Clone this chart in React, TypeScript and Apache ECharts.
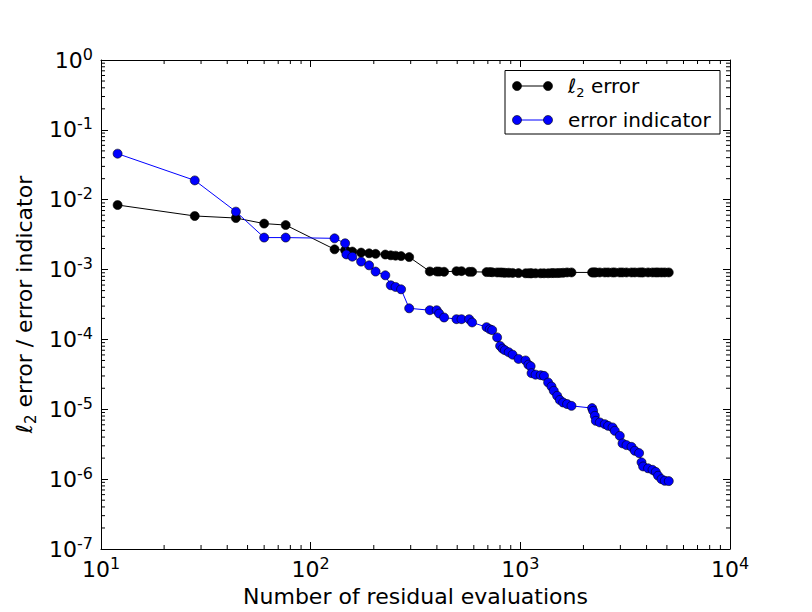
import React, { useEffect, useRef } from "react";
import * as echarts from "echarts";

// Number of residual evaluations (shared by both series)
const evaluations = [
  12, 28, 44, 60, 76, 130, 146, 148, 158, 174, 190, 204, 227, 241, 254, 270, 295, 370, 399, 410,
  433, 496, 524, 570, 589, 690, 715, 734, 775, 801, 823, 844, 880, 919, 980, 1059, 1092, 1120,
  1131, 1182, 1250, 1297, 1357, 1408, 1444, 1498, 1543, 1600, 1671, 1754, 2199, 2224, 2266, 2291,
  2393, 2528, 2622, 2752, 2822, 2981, 3072, 3209, 3390, 3516, 3685, 3784, 3851, 4068, 4270, 4426,
  4540, 4713, 4886, 5105,
];

const l2Error = [
  8.4e-3, 5.85e-3, 5.47e-3, 4.55e-3, 4.34e-3, 1.95e-3, 1.89e-3, 1.85e-3, 1.81e-3, 1.75e-3,
  1.71e-3, 1.68e-3, 1.64e-3, 1.6e-3, 1.58e-3, 1.56e-3, 1.51e-3, 9.4e-4, 9.4e-4, 9.35e-4,
  9.3e-4, 9.5e-4, 9.5e-4, 9.3e-4, 9.3e-4, 9.2e-4, 9.2e-4, 9.15e-4, 9.1e-4, 9.1e-4,
  9.05e-4, 9.0e-4, 9.0e-4, 8.95e-4, 8.9e-4, 8.85e-4, 8.85e-4, 8.85e-4, 8.85e-4, 8.85e-4,
  8.85e-4, 8.85e-4, 8.85e-4, 8.9e-4, 8.9e-4, 8.9e-4, 8.95e-4, 9.0e-4, 9.1e-4, 9.1e-4,
  9.1e-4, 9.1e-4, 9.1e-4, 9.1e-4, 9.1e-4, 9.1e-4, 9.1e-4, 9.1e-4, 9.1e-4, 9.1e-4,
  9.1e-4, 9.1e-4, 9.1e-4, 9.1e-4, 9.1e-4, 9.1e-4, 9.1e-4, 9.1e-4, 9.1e-4, 9.1e-4,
  9.1e-4, 9.1e-4, 9.1e-4, 9.1e-4,
];

const errorIndicator = [
  4.56e-2, 1.89e-2, 6.75e-3, 2.87e-3, 2.87e-3, 2.8e-3, 2.38e-3, 1.65e-3, 1.53e-3, 1.3e-3,
  1.15e-3, 9.36e-4, 8.28e-4, 5.96e-4, 5.64e-4, 5.22e-4, 2.79e-4, 2.62e-4, 2.62e-4, 2.35e-4,
  2.06e-4, 1.95e-4, 1.95e-4, 1.95e-4, 1.75e-4, 1.5e-4, 1.4e-4, 1.36e-4, 1.07e-4, 8.07e-5,
  7.37e-5, 7.01e-5, 6.56e-5, 6.04e-5, 5.26e-5, 5.0e-5, 4.35e-5, 4.14e-5, 3.29e-5, 3.13e-5,
  3.08e-5, 3.01e-5, 2.42e-5, 2.12e-5, 1.84e-5, 1.56e-5, 1.36e-5, 1.25e-5, 1.19e-5, 1.12e-5,
  1.04e-5, 9.5e-6, 8.06e-6, 6.84e-6, 6.49e-6, 6.13e-6, 5.8e-6, 5.5e-6, 4.92e-6, 4.17e-6,
  3.25e-6, 3.07e-6, 2.9e-6, 2.55e-6, 2.36e-6, 1.74e-6, 1.52e-6, 1.43e-6, 1.36e-6, 1.27e-6,
  1.12e-6, 1.0e-6, 9.48e-7, 9.38e-7,
];

// axis ranges and minor tick positions
const xRange = [10, 10000];
const yRange = [1e-7, 1];
const minorMultipliers = [2, 3, 4, 5, 6, 7, 8, 9];
const xDecades = [10, 100, 1000];
const yDecades = [1e-7, 1e-6, 1e-5, 1e-4, 1e-3, 1e-2, 1e-1];

const FONT = "DejaVu Sans";

export default function App() {
  const ref = useRef<HTMLDivElement>(null);

  useEffect(() => {
    document.body.style.margin = "0";
    if (!ref.current) return;
    const chart = echarts.init(ref.current, undefined, { renderer: "svg" });

    const xMinor: number[] = [];
    xDecades.forEach((d) => minorMultipliers.forEach((m) => xMinor.push(d * m)));
    const yMinor: number[] = [];
    yDecades.forEach((d) => yMinor.push(...minorMultipliers.map((m) => d * m)));

    const supRich = {
      b: { fontSize: 22, fontFamily: FONT, color: "#000", lineHeight: 28, verticalAlign: "middle" },
      s: { fontSize: 16, fontFamily: FONT, color: "#000", lineHeight: 16, verticalAlign: "top" },
    };
    const fmt = (v: number) => {
      const e = Math.round(Math.log10(v));
      return `{b|10}{s|${e}}`;
    };

    const makeSubRich = (size: number, subSize: number) => ({
      l: { fontSize: size, fontFamily: FONT, fontStyle: "italic", color: "#000", lineHeight: size + 6, verticalAlign: "middle" },
      n: { fontSize: subSize, fontFamily: FONT, color: "#000", lineHeight: subSize + 1, verticalAlign: "bottom" },
      t: { fontSize: size, fontFamily: FONT, color: "#000", lineHeight: size + 6, verticalAlign: "middle" },
    });
    const legendRich = makeSubRich(20, 13);
    const titleRich = makeSubRich(22, 15);

    const baseAxis = {
      type: "log" as const,
      logBase: 10,
      axisLine: { show: true, lineStyle: { color: "#000", width: 1 } },
      axisTick: { show: true, inside: true, length: 7, lineStyle: { color: "#000", width: 1 } },
      splitLine: { show: false },
      minorTick: { show: false },
    };

    const legendX = 505;
    const legendY = 70.5;
    const legendItems = [
      { text: "{l|ℓ}{n|2}{t| error}", color: "#000000", y: 86 },
      { text: "{t|error indicator}", color: "#0000ff", y: 120 },
    ];
    const legendGraphics: any[] = [
      {
        type: "rect",
        shape: { x: legendX, y: legendY, width: 215, height: 63.5 },
        style: { fill: "#fff", stroke: "#000", lineWidth: 1 },
        z: 100,
      },
    ];
    legendItems.forEach((it) => {
      legendGraphics.push({
        type: "line",
        shape: { x1: 517, y1: it.y, x2: 548, y2: it.y },
        style: { stroke: it.color, lineWidth: 1 },
        z: 101,
      });
      [517, 548].forEach((cx) =>
        legendGraphics.push({
          type: "circle",
          shape: { cx, cy: it.y, r: 4.5 },
          style: { fill: it.color, stroke: "#000", lineWidth: 0.6 },
          z: 102,
        })
      );
      legendGraphics.push({
        type: "text",
        x: 568,
        y: it.y,
        style: { text: it.text, rich: legendRich, verticalAlign: "middle", align: "left" },
        z: 102,
      });
    });

    const tickSeries = (values: number[], horizontal: boolean) => ({
      type: "custom" as const,
      silent: true,
      clip: false,
      xAxisIndex: 0,
      yAxisIndex: 0,
      z: 10,
      data: values.map((v) => (horizontal ? [v, 1] : [10, v])),
      renderItem: (params: any, api: any) => {
        const cs = params.coordSys;
        const p = api.coord([api.value(0), api.value(1)]);
        const st = { stroke: "#000", lineWidth: 1 };
        if (horizontal) {
          const b = cs.y + cs.height;
          return {
            type: "group",
            children: [
              { type: "line", shape: { x1: p[0], y1: b, x2: p[0], y2: b - 4 }, style: st },
              { type: "line", shape: { x1: p[0], y1: cs.y, x2: p[0], y2: cs.y + 4 }, style: st },
            ],
          };
        }
        const r = cs.x + cs.width;
        return {
          type: "group",
          children: [
            { type: "line", shape: { x1: cs.x, y1: p[1], x2: cs.x + 4, y2: p[1] }, style: st },
            { type: "line", shape: { x1: r, y1: p[1], x2: r - 4, y2: p[1] }, style: st },
          ],
        };
      },
    });

    chart.setOption({
      animation: false,
      backgroundColor: "#fff",
      textStyle: { fontFamily: FONT },
      grid: { left: 101, right: 82, top: 60, bottom: 61, containLabel: false },
      xAxis: [
        {
          ...baseAxis,
          position: "bottom",
          min: xRange[0],
          max: xRange[1],
          axisLabel: { formatter: fmt, rich: supRich, margin: 6, showMinLabel: true, showMaxLabel: true },
          name: "Number of residual evaluations",
          nameLocation: "middle",
          nameGap: 36,
          nameTextStyle: { fontSize: 22, fontFamily: FONT, color: "#000" },
        },
        {
          ...baseAxis,
          position: "top",
          min: xRange[0],
          max: xRange[1],
          axisLabel: { show: false },
        },
      ],
      yAxis: [
        {
          ...baseAxis,
          position: "left",
          min: yRange[0],
          max: yRange[1],
          axisLabel: { formatter: fmt, rich: supRich, margin: 8, showMinLabel: true, showMaxLabel: true },
          name: "{l|ℓ}{n|2}{t| error / error indicator}",
          nameLocation: "middle",
          nameGap: 62,
          nameTextStyle: { rich: titleRich, fontSize: 22, fontFamily: FONT, color: "#000" },
        },
        {
          ...baseAxis,
          position: "right",
          min: yRange[0],
          max: yRange[1],
          axisLabel: { show: false },
        },
      ],
      graphic: legendGraphics,
      series: [
        tickSeries(xMinor, true),
        tickSeries(yMinor, false),
        {
          name: "l2 error",
          type: "line",
          data: evaluations.map((x, i) => [x, l2Error[i]]),
          symbol: "circle",
          symbolSize: 9,
          lineStyle: { color: "#000000", width: 1 },
          itemStyle: { color: "#000000", borderColor: "#000", borderWidth: 0.6 },
          z: 3,
        },
        {
          name: "error indicator",
          type: "line",
          data: evaluations.map((x, i) => [x, errorIndicator[i]]),
          symbol: "circle",
          symbolSize: 9,
          lineStyle: { color: "#0000ff", width: 1 },
          itemStyle: { color: "#0000ff", borderColor: "#000", borderWidth: 0.6 },
          z: 4,
        },
      ],
    });

    return () => chart.dispose();
  }, []);

  return (
    <div
      ref={ref}
      style={{ position: "absolute", left: 0, top: 0, width: 812, height: 612 }}
    />
  );
}
